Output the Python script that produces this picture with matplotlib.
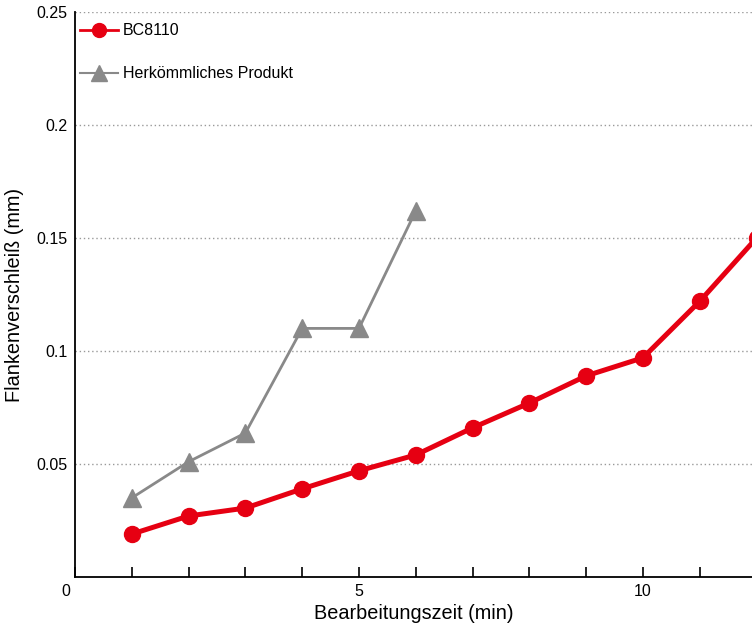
import numpy as np
import matplotlib.pyplot as plt
import matplotlib.transforms as mtransforms
from matplotlib.lines import Line2D

plt.rcParams['font.family'] = ['Liberation Sans', 'DejaVu Sans']

x_bc = [1, 2, 3, 4, 5, 6, 7, 8, 9, 10, 11, 12]
y_bc = [0.019, 0.027, 0.0305, 0.039, 0.047, 0.054, 0.066, 0.077, 0.089, 0.097, 0.122, 0.150]
x_conv = [1, 2, 3, 4, 5, 6]
y_conv = [0.035, 0.051, 0.0637, 0.110, 0.110, 0.162]

red = '#E60012'
grey = '#898989'

fig = plt.figure(figsize=(7.52, 6.24), dpi=100)
ax = fig.add_axes([75/752, 1 - 577/624, 677/752, 565/624])

ax.plot(x_conv, y_conv, color=grey, lw=2.0, marker='^', ms=13, zorder=3)
ax.plot(x_bc, y_bc, color=red, lw=3.6, marker='o', ms=11.5, zorder=4, clip_on=False)

ax.set_xlim(0, 11.92)
ax.set_ylim(0, 0.25)
ax.set_xticks(np.arange(0, 12, 1))
ax.set_xticklabels(['0', '', '', '', '', '5', '', '', '', '', '10', ''])
ax.set_yticks([0.05, 0.1, 0.15, 0.2, 0.25])
ax.set_yticklabels(['0.05', '0.1', '0.15', '0.2', '0.25'])
ax.tick_params(axis='x', direction='in', length=7, width=1.2, labelsize=11.5, pad=5)
ax.tick_params(axis='y', length=0, labelsize=11.5, pad=5.5)
for lbl in ax.get_xticklabels():
    if lbl.get_text() == '0':
        lbl.set_transform(lbl.get_transform() +
                          mtransforms.ScaledTranslation(-9/100, 0, fig.dpi_scale_trans))
ax.grid(axis='y', linestyle=(0, (1, 2)), color='#999999', lw=1)
ax.set_axisbelow(True)
for s in ['top', 'right']:
    ax.spines[s].set_visible(False)
ax.spines['left'].set_linewidth(1.3)
ax.spines['bottom'].set_linewidth(1.3)

ax.set_xlabel('Bearbeitungszeit (min)', fontsize=14.3, labelpad=3.5)
ax.set_ylabel('Flankenverschleiß (mm)', fontsize=14.3, labelpad=9)

handles = [Line2D([], [], color=red, lw=2, marker='o', ms=10),
           Line2D([], [], color=grey, lw=1.5, marker='^', ms=11)]
ax.legend(handles, ['BC8110', 'Herkömmliches Produkt'], loc='upper left',
          frameon=False, fontsize=11.5, labelspacing=1.75, handlelength=2.4,
          handletextpad=0.3, borderaxespad=0.3, bbox_to_anchor=(-0.009, 1.0))

fig.savefig('out.png', dpi=100)
